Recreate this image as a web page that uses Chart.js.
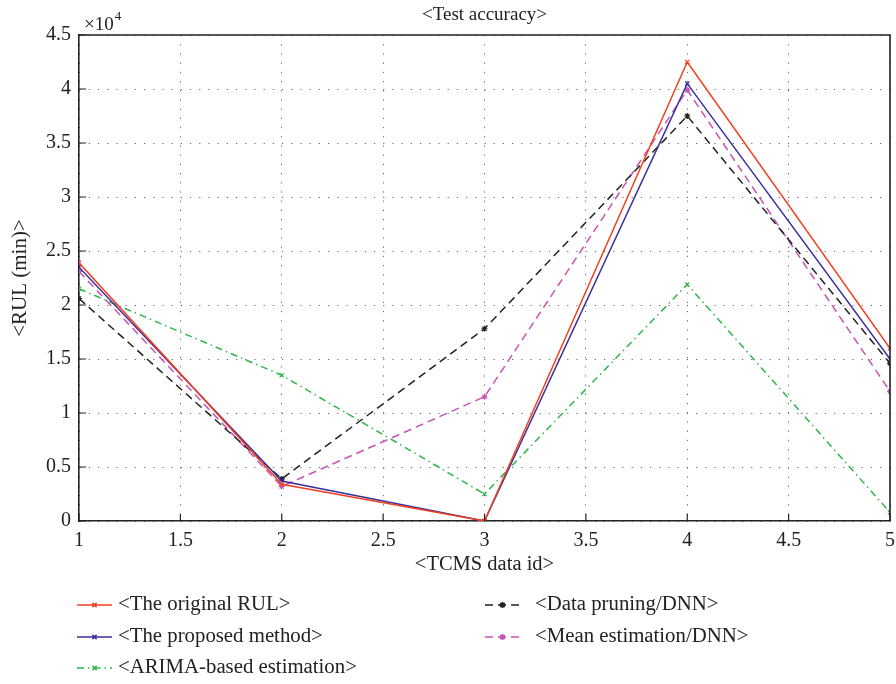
<!DOCTYPE html>
<html>
<head>
<meta charset="utf-8">
<style>
  html, body { margin: 0; padding: 0; background: #fff; }
  #wrap { width: 896px; height: 684px; }
</style>
<script src="https://cdn.jsdelivr.net/npm/chart.js@4/dist/chart.umd.min.js"></script>
</head>
<body>
<div id="wrap"><canvas id="c" width="896" height="684"></canvas></div>
<script>
// datos (RUL en minutos)
const ids = [1, 2, 3, 4, 5];
const originalRul = [23900, 3400, 0, 42500, 16000];
const proposedMethod = [23500, 3700, 0, 40500, 15000];
const arimaEst = [21500, 13500, 2500, 21900, 800];
const dataPruning = [20600, 3900, 17800, 37500, 14600];
const meanEst = [23100, 3200, 11500, 39900, 12000];

const FONT = '"Liberation Serif", "DejaVu Serif", serif';

function pts(vals) {
  return ids.map((x, i) => ({ x, y: vals[i] }));
}

const series = [
  { label: '<The original RUL>', data: originalRul, color: '#f2401f', dash: [], pt: 'crossRot' },
  { label: '<The proposed method>', data: proposedMethod, color: '#3a2f9e', dash: [], pt: 'crossRot' },
  { label: '<ARIMA-based estimation>', data: arimaEst, color: '#2fb64a', dash: [7, 4, 1.5, 4], pt: 'crossRot' },
  { label: '<Data pruning/DNN>', data: dataPruning, color: '#222222', dash: [8, 5], pt: 'star' },
  { label: '<Mean estimation/DNN>', data: meanEst, color: '#c854b4', dash: [8, 5], pt: 'star' }
];

// titulo, caja, ticks hacia dentro y leyenda en dos columnas
const extras = {
  id: 'extras',
  afterDraw(chart) {
    const { ctx, chartArea: a, scales } = chart;
    ctx.save();
    ctx.fillStyle = '#222';
    ctx.font = '19px ' + FONT;
    ctx.textAlign = 'center';
    ctx.textBaseline = 'middle';
    ctx.fillText('<Test accuracy>', (a.left + a.right) / 2, 15);

    // x10^4
    ctx.textAlign = 'left';
    ctx.font = '19px ' + FONT;
    ctx.fillText('\u00d710', a.left + 5, 25);
    const w = ctx.measureText('\u00d710').width;
    ctx.font = '13px ' + FONT;
    ctx.fillText('4', a.left + 5 + w + 1, 17);

    // caja
    ctx.strokeStyle = '#222';
    ctx.lineWidth = 1.6;
    ctx.beginPath();
    ctx.moveTo(a.left, a.top); ctx.lineTo(a.right, a.top); ctx.lineTo(a.right, a.bottom);
    ctx.stroke();

    // ticks interiores
    ctx.lineWidth = 1.2;
    ctx.beginPath();
    scales.y.ticks.forEach(t => {
      const y = scales.y.getPixelForValue(t.value);
      ctx.moveTo(a.left, y); ctx.lineTo(a.left + 7, y);
    });
    scales.x.ticks.forEach(t => {
      const x = scales.x.getPixelForValue(t.value);
      ctx.moveTo(x, a.bottom); ctx.lineTo(x, a.bottom - 7);
    });
    ctx.stroke();

    // leyenda
    const cols = [{ sx: 77, tx: 118 }, { sx: 485, tx: 535 }];
    const rows = [605, 637, 668];
    const place = [[0, 0], [0, 1], [0, 2], [1, 0], [1, 1]];
    chart.data.datasets.forEach((ds, i) => {
      const c = cols[place[i][0]], y = rows[place[i][1]];
      ctx.strokeStyle = ds.borderColor;
      ctx.lineWidth = 1.5;
      ctx.setLineDash(ds.borderDash || []);
      ctx.beginPath();
      ctx.moveTo(c.sx, y); ctx.lineTo(c.sx + 35, y);
      ctx.stroke();
      ctx.setLineDash([]);
      Chart.helpers.drawPoint(ctx, {
        pointStyle: ds.pointStyle, radius: ds.pointRadius, borderWidth: 1.2, rotation: 0
      }, c.sx + 17.5, y);
      ctx.fillStyle = '#222';
      ctx.font = '20.8px ' + FONT;
      ctx.textAlign = 'left';
      ctx.textBaseline = 'middle';
      ctx.fillText(ds.label, c.tx, y);
    });
    ctx.restore();
  }
};

new Chart(document.getElementById('c'), {
  type: 'line',
  data: {
    datasets: series.map(s => ({
      label: s.label,
      data: pts(s.data),
      borderColor: s.color,
      backgroundColor: s.color,
      borderDash: s.dash,
      borderWidth: 1.5,
      pointStyle: s.pt,
      pointRadius: 3,
      pointBorderWidth: 1.2,
      fill: false,
      tension: 0
    }))
  },
  options: {
    responsive: false,
    animation: false,
    layout: { padding: { top: 35, right: 6, left: 0, bottom: 105 } },
    plugins: { legend: { display: false }, tooltip: { enabled: false } },
    scales: {
      x: {
        type: 'linear', min: 1, max: 5,
        ticks: {
          stepSize: 0.5, color: '#222', padding: 8, font: { family: FONT, size: 20 },
          callback: v => String(v)
        },
        grid: { color: '#666', lineWidth: 1, drawTicks: false },
        border: { display: true, color: '#222', width: 1.6, dash: [1.2, 8] },
        title: { display: true, text: '<TCMS data id>', color: '#222', font: { family: FONT, size: 20.5 }, padding: { top: 4, bottom: 2 } },
        afterFit(s) { s.height = 58; s.paddingRight = 0; s.paddingLeft = 0; }
      },
      y: {
        min: 0, max: 45000,
        ticks: {
          stepSize: 5000, color: '#222', padding: 8, font: { family: FONT, size: 20 },
          callback: v => String(v / 10000)
        },
        grid: { color: '#666', lineWidth: 1, drawTicks: false },
        border: { display: true, color: '#222', width: 1.6, dash: [1.2, 8] },
        title: { display: true, text: '<RUL (min)>', color: '#222', font: { family: FONT, size: 21 }, padding: { top: 8, bottom: 4 } },
        afterFit(s) { s.width = 79; }
      }
    }
  },
  plugins: [extras]
});
</script>
</body>
</html>
